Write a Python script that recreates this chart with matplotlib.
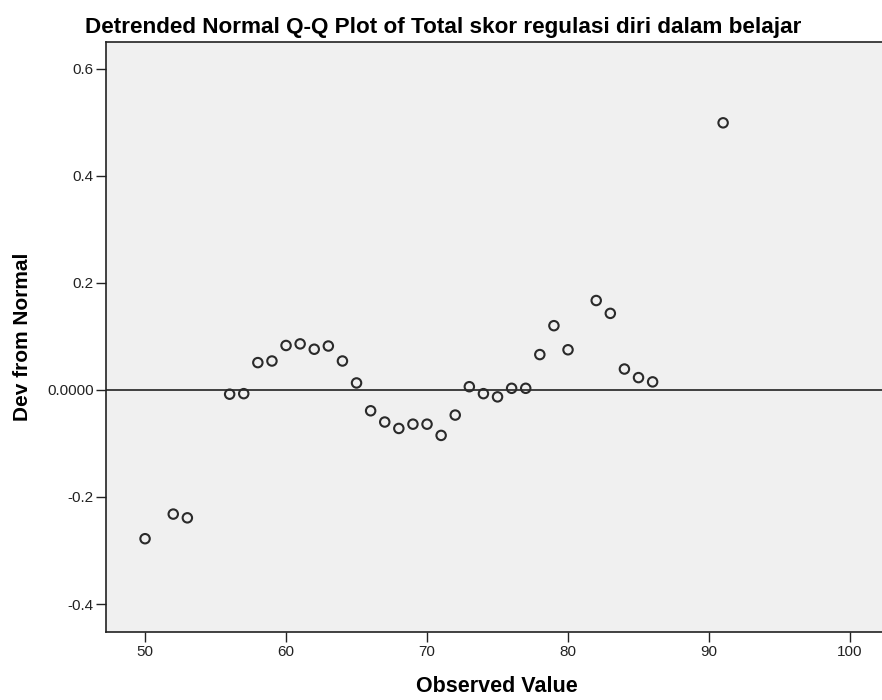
import matplotlib
matplotlib.use("Agg")
import matplotlib.pyplot as plt

observed = [50, 52, 53, 56, 57, 58, 59, 60, 61, 62, 63, 64, 65, 66, 67, 68, 69, 70,
            71, 72, 73, 74, 75, 76, 77, 78, 79, 80, 82, 83, 84, 85, 86, 91]
deviation = [-0.278, -0.232, -0.239, -0.008, -0.007, 0.051, 0.054, 0.083, 0.086, 0.076,
             0.082, 0.054, 0.013, -0.039, -0.060, -0.072, -0.064, -0.064, -0.085, -0.047,
             0.006, -0.007, -0.013, 0.003, 0.003, 0.066, 0.120, 0.075, 0.167, 0.143,
             0.039, 0.023, 0.015, 0.499]
x_ticks = [50, 60, 70, 80, 90, 100]
y_ticks = [-0.4, -0.2, 0.0, 0.2, 0.4, 0.6]
y_tick_labels = ["-0.4", "-0.2", "0.0000", "0.2", "0.4", "0.6"]

plt.rcParams['font.family'] = ['Liberation Sans', 'DejaVu Sans']

fig = plt.figure(figsize=(8.82, 7.0), dpi=100)
ax = fig.add_axes([106/882, 1-632/700, 1-106/882, (632-42)/700])
ax.set_facecolor('#f0f0f0')

ax.axhline(0, color='#222222', lw=1.2, zorder=1)
ax.scatter(observed, deviation, s=46, facecolors='none', edgecolors='#2a2a2a',
           linewidths=1.5, zorder=3)

ax.set_xlim(47.23, 102.27)
ax.set_ylim(-0.4523, 0.650)
ax.set_xticks(x_ticks)
ax.set_xticklabels([str(v) for v in x_ticks])
ax.set_yticks(y_ticks)
ax.set_yticklabels(y_tick_labels)
ax.tick_params(direction='out', length=7, width=1, pad=2, labelsize=11, colors='#222222')
ax.spines['right'].set_visible(False)
for s in ['left', 'bottom', 'top']:
    ax.spines[s].set_linewidth(1.2)
    ax.spines[s].set_color('#222222')

fig.text(443/882, 1-33/700, "Detrended Normal Q-Q Plot of Total skor regulasi diri dalam belajar",
         ha='center', va='baseline', fontsize=16.2, fontweight='bold')
fig.text(497/882, 1-687/700, "Observed Value", ha='center', va='center',
         fontsize=15.5, fontweight='bold')
fig.text(23/882, 1-337/700, "Dev from Normal", ha='center', va='center', rotation=90,
         fontsize=15, fontweight='bold')

fig.savefig("out.png", dpi=100)
